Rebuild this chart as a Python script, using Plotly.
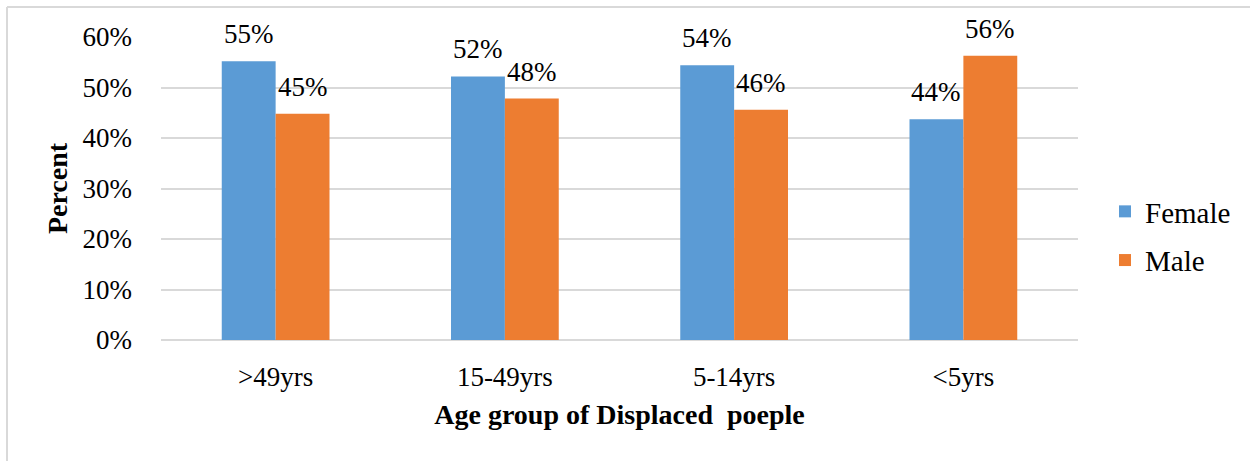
import plotly.graph_objects as go

# Age groups and the share of each sex within them
age_groups = [">49yrs", "15-49yrs", "5-14yrs", "<5yrs"]
female = [0.552, 0.522, 0.544, 0.437]
male = [0.448, 0.478, 0.456, 0.563]
y_ticks = [0, 0.1, 0.2, 0.3, 0.4, 0.5, 0.6]

FONT = "Liberation Serif"
BAR_FONT = dict(family=FONT, size=27, color="#000000")

fig = go.Figure()
fig.add_trace(go.Bar(
    name="Female", x=age_groups, y=female,
    marker=dict(color="#5B9BD5", line=dict(width=0)),
    legendgroup="f",
))
fig.add_trace(go.Bar(
    name="Male", x=age_groups, y=male,
    marker=dict(color="#ED7D31", line=dict(width=0)),
    legendgroup="m",
))

W, H = 1250, 461
ml, mr, mt, mb = 161, 172, 37, 121
pw, ph = W - ml - mr, H - mt - mb

def px_x(p):
    return (p - ml) / pw

def px_y(p):
    return (H - mb - p) / ph

# value labels sitting above each bar (offset half a bar width to either side)
half_bar = 27
annotations = []
for cat, f, m in zip(age_groups, female, male):
    for val, dx in ((f, -half_bar), (m, half_bar)):
        annotations.append(dict(
            x=cat, y=val, xref="x", yref="y",
            text=f"{val:.0%}", showarrow=False,
            xanchor="center", yanchor="bottom",
            xshift=dx, yshift=10, font=BAR_FONT,
        ))

fig.update_layout(
    width=W, height=H,
    margin=dict(l=ml, r=mr, t=mt, b=mb, pad=0),
    paper_bgcolor="white", plot_bgcolor="white",
    barmode="group", bargap=0.53, bargroupgap=0,
    font=dict(family=FONT, size=27, color="#000000"),
    legend=dict(
        x=px_x(1105), y=px_y(236), xanchor="left", yanchor="middle",
        font=dict(family=FONT, size=29, color="#000000"),
        traceorder="grouped", tracegroupgap=8,
        itemwidth=30, bgcolor="rgba(0,0,0,0)",
    ),
    xaxis=dict(
        showgrid=False, showline=False, ticks="",
        tickfont=dict(family=FONT, size=27),
        ticklabelstandoff=18,
        title=dict(text="<b>Age group of Displaced  poeple</b>",
                   font=dict(family=FONT, size=28), standoff=13),
    ),
    yaxis=dict(
        range=[0, 0.6], tickvals=y_ticks, tickformat=".0%",
        showgrid=True, gridcolor="#D9D9D9", gridwidth=2,
        zeroline=True, zerolinecolor="#D9D9D9", zerolinewidth=2,
        showline=False, ticks="", ticklabelstandoff=28,
        tickfont=dict(family=FONT, size=27),
        title=dict(text="<b>Percent</b>", font=dict(family=FONT, size=28),
                   standoff=6),
    ),
    annotations=annotations,
    shapes=[
        dict(type="line", xref="paper", yref="paper",
             x0=px_x(7), x1=px_x(7), y0=px_y(7), y1=px_y(461),
             line=dict(color="#D9D9D9", width=2)),
        dict(type="line", xref="paper", yref="paper",
             x0=px_x(7), x1=px_x(1250), y0=px_y(7), y1=px_y(7),
             line=dict(color="#D9D9D9", width=2)),
    ],
)

fig.write_html("out.html")
